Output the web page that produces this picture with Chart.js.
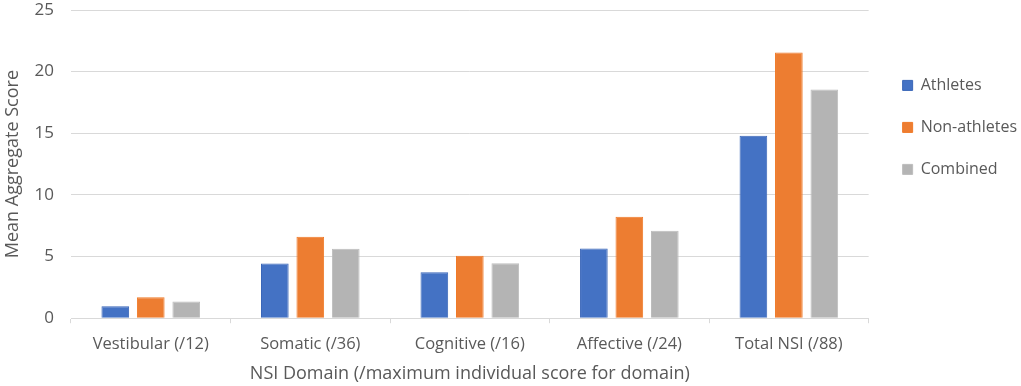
<!DOCTYPE html>
<html>
<head>
<meta charset="utf-8">
<script src="https://cdn.jsdelivr.net/npm/chart.js@4/dist/chart.umd.min.js"></script>
<style>
  html, body { margin: 0; padding: 0; background: #ffffff; overflow: hidden; }
</style>
</head>
<body>
<canvas id="chart-nsi" width="1021" height="386"></canvas>
<script>
// categories and series
const domains = ['Vestibular (/12)', 'Somatic (/36)', 'Cognitive (/16)', 'Affective (/24)', 'Total NSI (/88)'];
const athletes = [0.97, 4.44, 3.73, 5.66, 14.8];
const nonAthletes = [1.7, 6.6, 5.07, 8.22, 21.56];
const combined = [1.35, 5.63, 4.46, 7.09, 18.56];
const yTicks = [0, 5, 10, 15, 20, 25];

const textColor = '#595959';
const gridColor = '#d9d9d9';
const fontFamily = "'Open Sans', 'Noto Sans', sans-serif";

// nudge the legend a little to the right, away from the plot
const legendShift = {
    id: 'legendShift',
    afterLayout: function (chart) {
        chart.legend.left += 8;
        chart.legend.right += 8;
    }
};

var ctx = document.getElementById('chart-nsi').getContext('2d');
var chart_nsi = new Chart(ctx, {
    type: 'bar',
    data: {
        labels: domains,
        datasets: [{
            label: 'Athletes',
            data: athletes,
            backgroundColor: '#4472c4',
            borderColor: '#3a66b8',
            borderWidth: 1
        }, {
            label: 'Non-athletes',
            data: nonAthletes,
            backgroundColor: '#ed7d31',
            borderColor: '#f07a28',
            borderWidth: 1
        }, {
            label: 'Combined',
            data: combined,
            backgroundColor: '#b4b4b4',
            borderColor: '#bdbdbd',
            borderWidth: 1
        }]
    },
    plugins: [legendShift],
    options: {
        responsive: false,
        animation: false,
        maintainAspectRatio: false,
        layout: {
            padding: { top: 2, right: 2, bottom: 3, left: 2 }
        },
        datasets: {
            bar: {
                categoryPercentage: 0.667,
                barPercentage: 0.78
            }
        },
        plugins: {
            tooltip: { enabled: false },
            legend: {
                position: 'right',
                align: 'start',
                title: {
                    display: true,
                    text: ' ',
                    font: { size: 12 },
                    padding: { top: 35, bottom: 0 }
                },
                labels: {
                    boxWidth: 10,
                    boxHeight: 10,
                    padding: 26,
                    color: textColor,
                    font: { family: fontFamily, size: 16 }
                }
            }
        },
        scales: {
            x: {
                grid: {
                    offset: true,
                    drawOnChartArea: false,
                    drawTicks: true,
                    tickLength: 5,
                    color: gridColor
                },
                border: { display: true, color: gridColor },
                ticks: {
                    color: textColor,
                    padding: 11,
                    maxRotation: 0,
                    font: { family: fontFamily, size: 16.5 }
                },
                title: {
                    display: true,
                    text: 'NSI Domain (/maximum individual score for domain)',
                    color: textColor,
                    padding: { top: 0, bottom: 0 },
                    font: { family: fontFamily, size: 18, lineHeight: 1 }
                }
            },
            y: {
                min: 0,
                max: 25,
                afterBuildTicks: function (axis) {
                    axis.ticks = yTicks.map(v => ({ value: v }));
                },
                afterFit: function (axis) {
                    axis.width = 69;
                    axis.paddingTop = 10;
                },
                grid: {
                    color: gridColor,
                    drawTicks: false
                },
                border: { display: false },
                ticks: {
                    color: textColor,
                    padding: 17,
                    font: { family: fontFamily, size: 17 }
                },
                title: {
                    display: true,
                    text: 'Mean Aggregate Score',
                    color: textColor,
                    padding: { top: 0, bottom: 0 },
                    font: { family: fontFamily, size: 18 }
                }
            }
        }
    }
});
</script>
</body>
</html>
